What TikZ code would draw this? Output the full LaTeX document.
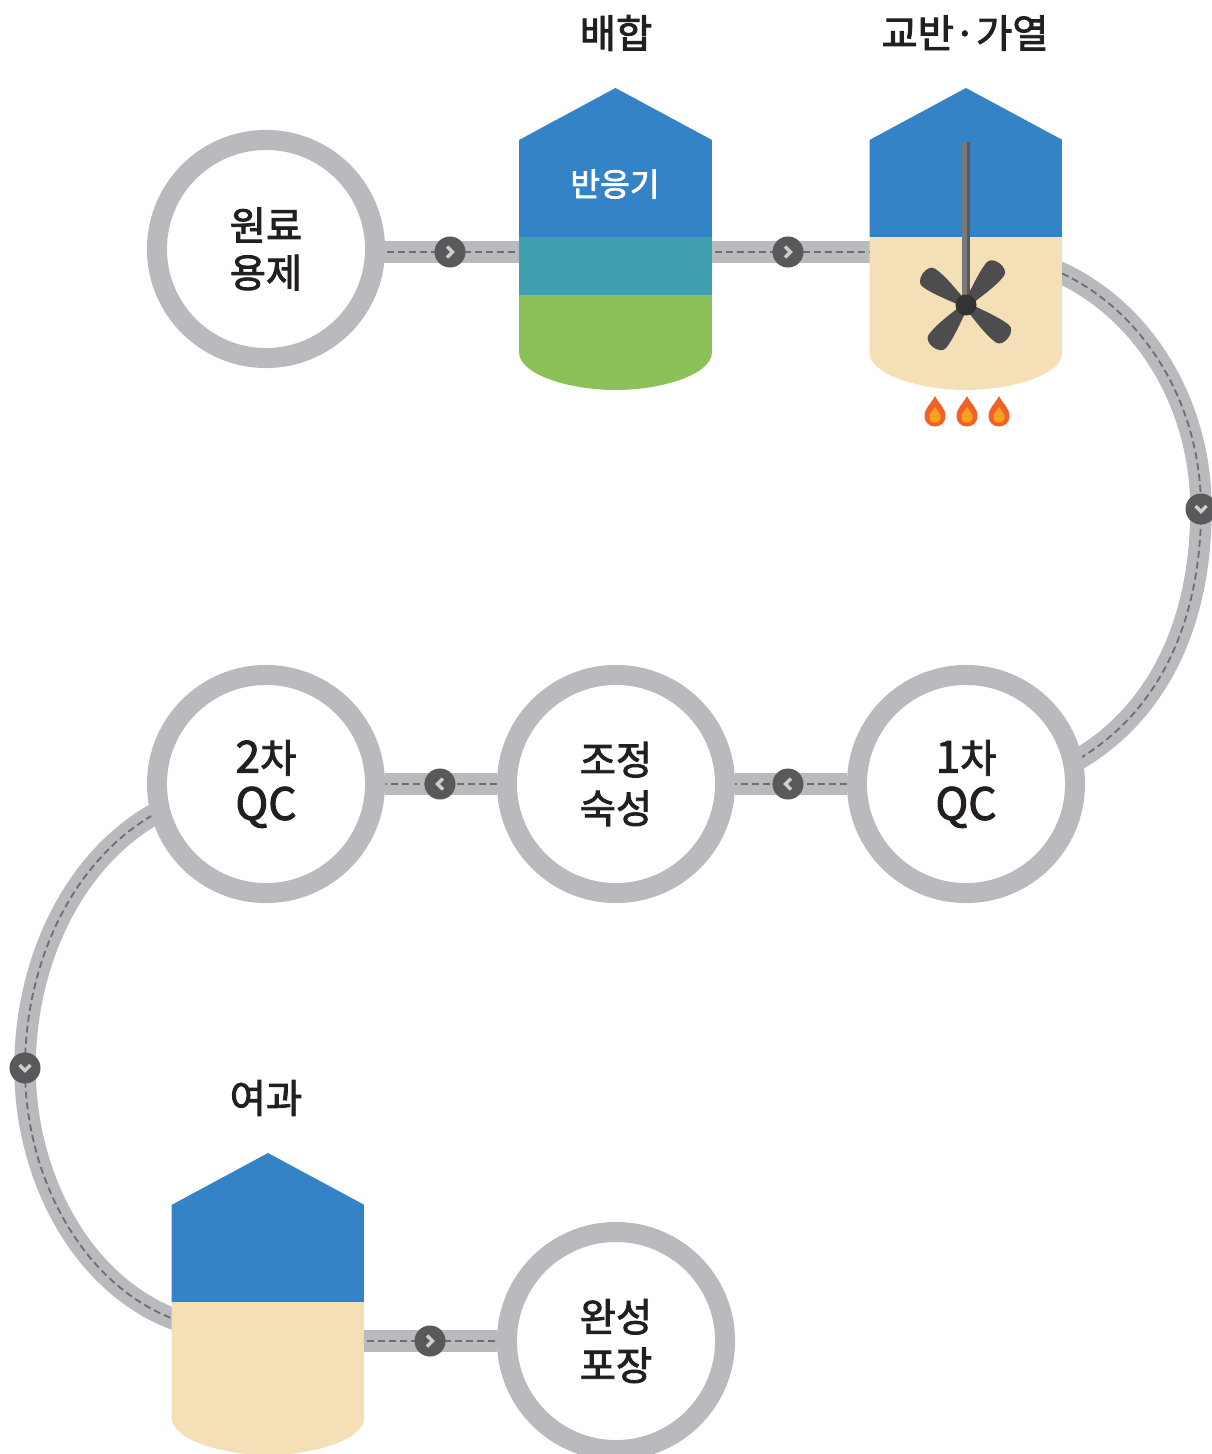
\documentclass[tikz,border=0pt]{standalone}
\usepackage{fontspec}
\setmainfont[FakeBold=2.2]{Noto Sans CJK KR}
\usetikzlibrary{backgrounds}
\definecolor{pipegray}{HTML}{B9BABE}
\definecolor{dashgray}{HTML}{6D6E72}
\definecolor{badgegray}{HTML}{58595B}
\definecolor{tankblue}{HTML}{3383C6}
\definecolor{tankteal}{HTML}{3EA0AE}
\definecolor{tankgreen}{HTML}{8BC158}
\definecolor{tankbeige}{HTML}{F4DFB6}
\definecolor{bladegray}{HTML}{4D4D4F}
\definecolor{flameout}{HTML}{F0622A}
\definecolor{flamein}{HTML}{F9A11B}
\definecolor{inkgray}{HTML}{231F20}
\newcommand{\qcfont}{\fontsize{12.6}{14}\selectfont}
\tikzset{
	ring/.style={circle,draw=pipegray,line width=0.2cm,fill=white,minimum size=2.18cm,inner sep=0pt,align=center,font=\fontsize{11.2}{14}\selectfont,text=inkgray},
	tankbox/.style={rectangle,minimum width=1.93cm,minimum height=3.02cm,inner sep=0pt},
	title/.style={font=\fontsize{11.2}{14.2}\selectfont,text=inkgray},
	pipe/.style={line width=0.215cm,draw=pipegray,postaction={draw=dashgray,line width=0.018cm,dash pattern=on 0.07cm off 0.04cm}},
	badge/.style={circle,fill=badgegray,minimum size=0.31cm,inner sep=0pt},
	chev/.pic={\draw[draw=pipegray!70!white,line width=0.035cm] (-3,-5.5)--(2.5,0)--(-3,5.5);}
}
\newcommand{\tankpath}{(-96.5,52) -- (0,0) -- (96.5,52) -- (96.5,264) .. controls (96.5,287) and (45,302) .. (0,302) .. controls (-45,302) and (-96.5,287) .. (-96.5,264) -- cycle}
\begin{document}
\begin{tikzpicture}[x=0.01cm,y=-0.01cm]
	\useasboundingbox (0,0) rectangle (1211,1454);
	% steps
	\node[ring] (rawmat) at (266,249) {원료\\[-0.6pt]용제};
	\node[ring] (qcone) at (966,784) {{\qcfont 1}차\\[-0.6pt]{\qcfont QC}};
	\node[ring] (aging) at (616,784) {조정\\[-0.2pt]숙성};
	\node[ring] (qctwo) at (266,784) {{\qcfont 2}차\\[-0.6pt]{\qcfont QC}};
	\node[ring] (pack) at (616,1341) {완성\\[-0.2pt]포장};
	\node[tankbox] (mix) at (615.5,239) {};
	\node[tankbox] (stir) at (966,239) {};
	\node[tankbox] (filter) at (268,1304) {};
	% tanks
	\begin{scope}[shift={(615.5,88)}]
		\clip \tankpath;
		\fill[tankblue] (-97,-1) rectangle (97,149);
		\fill[tankteal] (-97,149) rectangle (97,207);
		\fill[tankgreen] (-97,207) rectangle (97,303);
	\end{scope}
	\begin{scope}[shift={(966,88)}]
		\clip \tankpath;
		\fill[tankblue] (-97,-1) rectangle (97,149);
		\fill[tankbeige] (-97,149) rectangle (97,303);
	\end{scope}
	\begin{scope}[shift={(268,1153)}]
		\clip \tankpath;
		\fill[tankblue] (-97,-1) rectangle (97,149);
		\fill[tankbeige] (-97,149) rectangle (97,303);
	\end{scope}
	% stirrer
	\fill[bladegray!75] (962,142) rectangle (967,305);
	\fill[badgegray] (967,142) rectangle (970,305);
	\foreach \a in {52,145,233,323}
		{\fill[bladegray,shift={(966,305)},rotate=\a] (0,3) .. controls (18,7) and (32,12) .. (46,12) .. controls (56,12) and (56,-10) .. (46,-10) .. controls (32,-10) and (18,-6) .. (0,-3) -- cycle;}
	\fill[black!80] (966,305) circle (10.5);
	% flames
	\foreach \x in {935,967,999}
		{\fill[flameout] (\x,396) .. controls (\x+4,404) and (\x+10.5,408) .. (\x+10.5,416) .. controls (\x+10.5,430) and (\x-10.5,430) .. (\x-10.5,416) .. controls (\x-10.5,408) and (\x-4,404) .. (\x,396) -- cycle;
		\fill[flamein] (\x,407) .. controls (\x+2,411) and (\x+5.5,413) .. (\x+5.5,417) .. controls (\x+5.5,425) and (\x-5.5,425) .. (\x-5.5,417) .. controls (\x-5.5,413) and (\x-2,411) .. (\x,407) -- cycle;}
	% labels
	\node[title] (mixtitle) at (616,33) {배합};
	\node[title] (stirtitle) at (965,33) {교반·가열};
	\node[title] (filtertitle) at (266,1098) {여과};
	\node[font=\fontsize{9.2}{11}\selectfont,text=white] (mixtext) at (615,184) {반응기};
	% pipes
	\coordinate (rowone) at (0,252);
	\coordinate (rowthree) at (0,1341);
	\coordinate (stirout) at (1052,269);
	\coordinate (qconein) at (1070,764);
	\coordinate (qctwoout) at (162,810);
	\coordinate (filterin) at (182,1322);
	\begin{scope}[on background layer]
		\draw[pipe] (rawmat |- rowone) -- (mix |- rowone);
		\draw[pipe] (mix |- rowone) -- (stir |- rowone);
		\draw[pipe] (stirout) .. controls (1140,305) and (1201,400) .. (1201,509) .. controls (1201,620) and (1160,715) .. (qconein);
		\draw[pipe] (qcone) -- (aging);
		\draw[pipe] (aging) -- (qctwo);
		\draw[pipe] (qctwoout) .. controls (75,855) and (25,960) .. (25,1068) .. controls (25,1180) and (85,1290) .. (filterin);
		\draw[pipe] (filter |- rowthree) -- (pack);
	\end{scope}
	% badges
	\foreach \n/\x/\y/\r in {a/450/252/0,b/788/252/0,c/1201/509/-90,d/788/784/180,e/440/784/180,f/25/1068/-90,g/430/1341/0}
		{\node[badge] (badge\n) at (\x,\y) {};
		\pic[rotate=\r] at (badge\n) {chev};}
\end{tikzpicture}
\end{document}
